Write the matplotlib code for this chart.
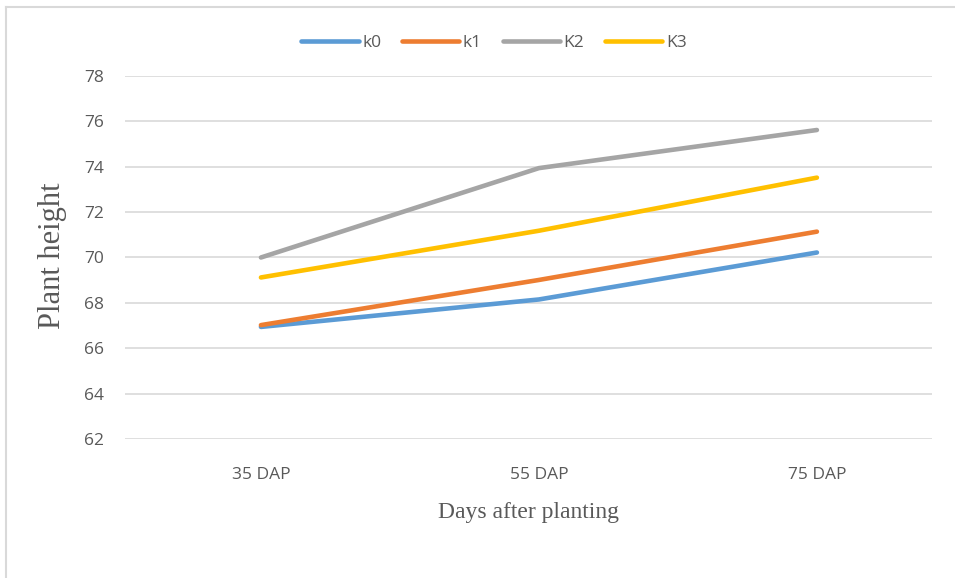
import matplotlib.pyplot as plt
from matplotlib.lines import Line2D

# Plant height per treatment at each sampling date
days = ["35 DAP", "55 DAP", "75 DAP"]
k0 = [66.94, 68.15, 70.22]
k1 = [67.02, 69.01, 71.14]
K2 = [70.0, 73.94, 75.62]
K3 = [69.12, 71.18, 73.52]

series = [("k0", k0, "#5B9BD5"), ("k1", k1, "#ED7D31"),
          ("K2", K2, "#A5A5A5"), ("K3", K3, "#FFC000")]

fig = plt.figure(figsize=(9.55, 5.78), dpi=100)
ax = fig.add_axes([0.1309, 0.2405, 0.845, 0.628])

x = range(len(days))
for name, vals, col in series:
    ax.plot(x, vals, color=col, lw=3.3, label=name, solid_capstyle="round", solid_joinstyle="round")

ax.set_ylim(62, 78)
ax.set_yticks(range(62, 79, 2))
ax.set_xlim(-0.489, 2.414)
ax.set_xticks(list(x))
ax.set_xticklabels(days)
ax.grid(axis="y", color="#D9D9D9", lw=1.2)
ax.set_axisbelow(True)
for s in ax.spines.values():
    s.set_visible(False)
ax.tick_params(length=0, labelsize=12.5, labelcolor="#595959")
ax.tick_params(axis="y", pad=15)
ax.tick_params(axis="x", pad=20)
for lab in ax.get_xticklabels() + ax.get_yticklabels():
    lab.set_family("Open Sans")

ax.set_xlabel("Days after planting", family="Liberation Serif", fontsize=17, color="#595959", labelpad=14)
ax.set_ylabel("Plant height", family="Liberation Serif", fontsize=22, color="#595959")
ax.yaxis.set_label_coords(-0.072, 0.505)

fig.legend(loc="center", bbox_to_anchor=(494 / 955, 1 - 43 / 578), ncol=4, frameon=False,
           prop={"family": "Open Sans", "size": 12.5}, labelcolor="#595959",
           handlelength=3.3, handletextpad=0.2, columnspacing=1.2)

# chart border (only left and top visible)
fig.add_artist(Line2D([5.5 / 955, 5.5 / 955], [0, 1 - 7 / 578], color="#D9D9D9", lw=1.5))
fig.add_artist(Line2D([5.5 / 955, 1], [1 - 7 / 578, 1 - 7 / 578], color="#D9D9D9", lw=1.5))

fig.savefig("out.png", dpi=100)
